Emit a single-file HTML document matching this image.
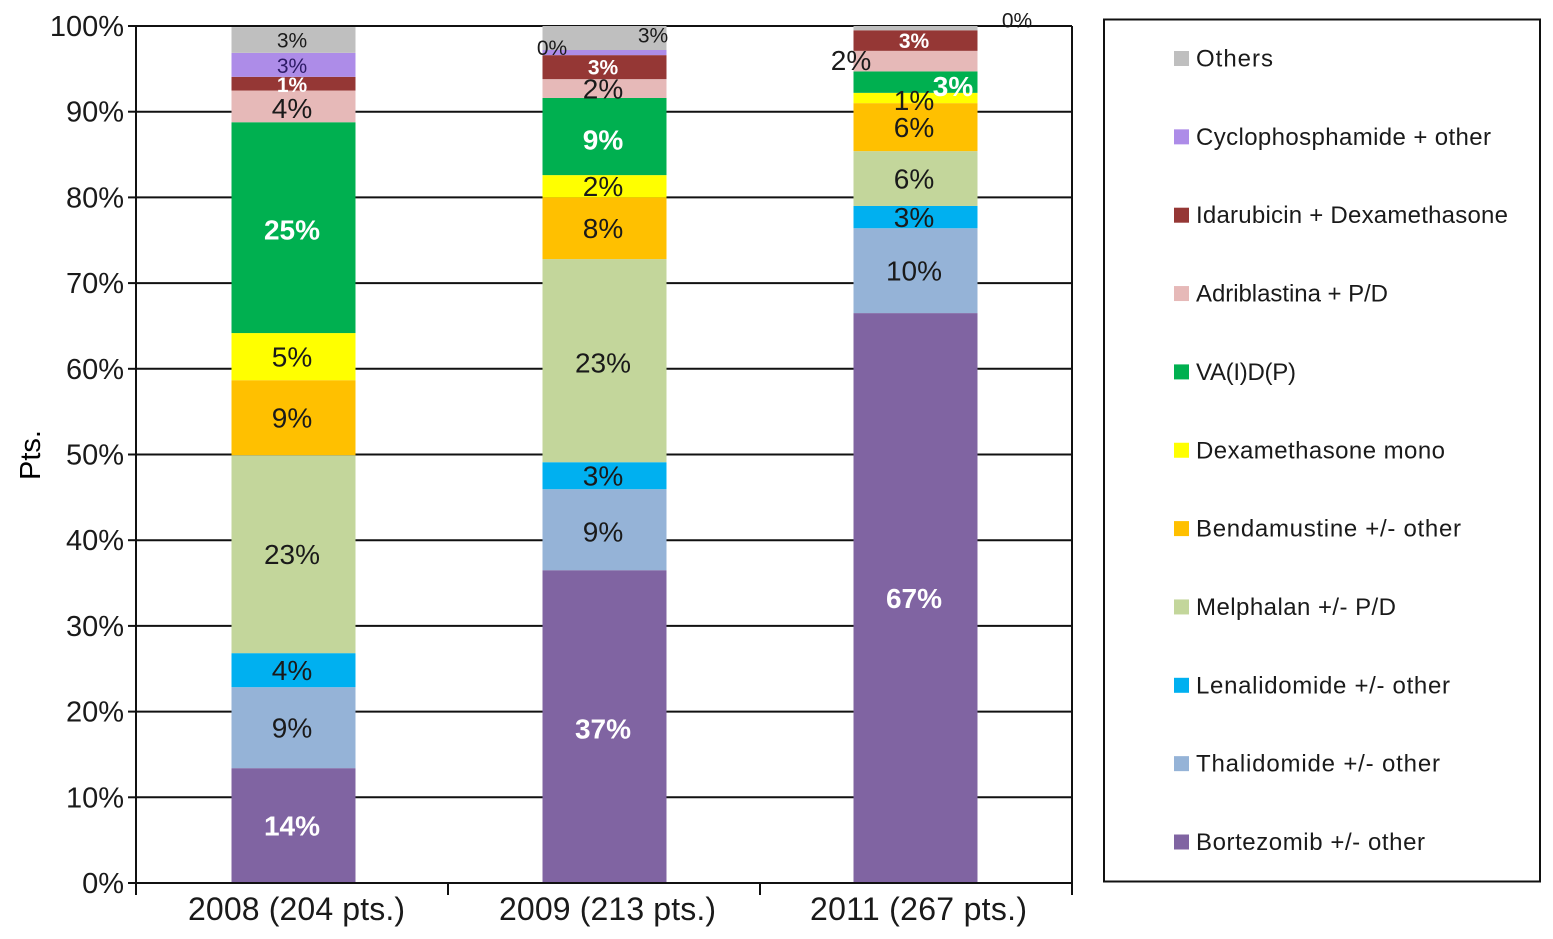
<!DOCTYPE html>
<html lang="en">
<head>
<meta charset="utf-8">
<title>Treatment regimens by year</title>
<style>
html,body{margin:0;padding:0;background:#fff;width:1553px;height:939px;overflow:hidden}
svg{display:block}
text{font-family:"Liberation Sans",sans-serif}
</style>
</head>
<body>
<svg id="chart" width="1553" height="939" viewBox="0 0 1553 939" xmlns="http://www.w3.org/2000/svg"></svg>
<script>
// ---- Data ----
const categories = ['2008 (204 pts.)', '2009 (213 pts.)', '2011 (267 pts.)'];
const yTicks = [0, 10, 20, 30, 40, 50, 60, 70, 80, 90, 100];

const bortezomib = [13.4, 36.5, 66.5];
const thalidomide = [9.45, 9.45, 9.9];
const lenalidomide = [3.97, 3.15, 2.6];
const melphalan = [23.1, 23.7, 6.4];
const bendamustine = [8.75, 7.2, 5.6];
const dexamethasone = [5.5, 2.6, 1.2];
const vaidp = [24.6, 9.0, 2.5];
const adriblastina = [3.7, 2.2, 2.4];
const idarubicin = [1.6, 2.8, 2.4];
const cyclophosphamide = [2.8, 0.6, 0];
const others = [3.0, 2.8, 0.5];

const labelsBortezomib = ['14%', '37%', '67%'];
const labelsThalidomide = ['9%', '9%', '10%'];
const labelsLenalidomide = ['4%', '3%', '3%'];
const labelsMelphalan = ['23%', '23%', '6%'];
const labelsBendamustine = ['9%', '8%', '6%'];
const labelsDexamethasone = ['5%', '2%', '1%'];
const labelsVaidp = ['25%', '9%', '3%'];
const labelsAdriblastina = ['4%', '2%', '2%'];
const labelsIdarubicin = ['1%', '3%', '3%'];
const labelsCyclophosphamide = ['3%', '0%', ''];
const labelsOthers = ['3%', '3%', '0%'];

const seriesNames = ['Bortezomib +/- other', 'Thalidomide +/- other', 'Lenalidomide +/- other', 'Melphalan +/- P/D', 'Bendamustine +/- other', 'Dexamethasone mono', 'VA(I)D(P)', 'Adriblastina + P/D', 'Idarubicin + Dexamethasone', 'Cyclophosphamide + other', 'Others'];
const seriesValues = [bortezomib, thalidomide, lenalidomide, melphalan, bendamustine, dexamethasone, vaidp, adriblastina, idarubicin, cyclophosphamide, others];
const seriesLabels = [labelsBortezomib, labelsThalidomide, labelsLenalidomide, labelsMelphalan, labelsBendamustine, labelsDexamethasone, labelsVaidp, labelsAdriblastina, labelsIdarubicin, labelsCyclophosphamide, labelsOthers];

// ---- Styling and layout ----
const seriesColors = ['#8064A2', '#95B3D7', '#00B0F0', '#C3D69B', '#FFC000', '#FFFF00', '#00B050', '#E6B9B8', '#953735', '#AD8CE8', '#BFBFBF'];
const legendWidths = [229, 244, 254, 200, 265, 249, 100, 192, 312, 295, 77];
const plot = {left: 136, right: 1072, top: 26, bottom: 883, barWidth: 124, firstBar: 293.5, barStep: 311};
const labelStyle = {
  '0,0': {bold: 1, white: 1}, '1,0': {bold: 1, white: 1, dy: 2}, '2,0': {bold: 1, white: 1},
  '1,1': {dy: 2}, '1,3': {dy: 2},
  '0,6': {bold: 1, white: 1, dy: 2}, '1,6': {bold: 1, white: 1, dy: 3}, '2,6': {bold: 1, white: 1, dx: 39, dy: 4},
  '0,7': {dy: 2}, '2,7': {dx: -63, dy: -1}, '2,5': {dy: 2},
  '0,8': {bold: 1, white: 1, small: 1, dy: 1}, '1,8': {bold: 1, white: 1, small: 1}, '2,8': {bold: 1, white: 1, small: 1},
  '0,9': {small: 1, dy: 1, fill: '#2d1a66'}, '1,9': {small: 1, dx: -51, dy: -5},
  '0,10': {small: 1}, '1,10': {small: 1, dx: 50, dy: -3}, '2,10': {small: 1, dx: 103, dy: -8}
};

const svg = document.getElementById('chart');
const NS = 'http://www.w3.org/2000/svg';
function make(tag, attrs, text) {
  const el = document.createElementNS(NS, tag);
  for (const k in attrs) el.setAttribute(k, attrs[k]);
  if (text !== undefined) el.textContent = text;
  svg.appendChild(el);
  return el;
}
function yScale(v) { return plot.bottom - (v / 100) * (plot.bottom - plot.top); }
function bandWidth() { return (plot.right - plot.left) / categories.length; }
function xCenter(i) { return plot.firstBar + plot.barStep * i; }

// Gridlines
yTicks.forEach(function (t) {
  if (t === 0) return;
  const g = make('line', {x1: plot.left, x2: plot.right, y1: yScale(t), y2: yScale(t), stroke: '#111', 'stroke-width': 2});
  
  
});

// Bars
categories.forEach(function (cat, c) {
  let cum = 0;
  seriesValues.forEach(function (vals, s) {
    const v = vals[c];
    const y1 = yScale(cum), y0 = yScale(cum + v);
    cum += v;
    if (v <= 0) return;
    const r = make('rect', {x: xCenter(c) - plot.barWidth / 2, y: y0, width: plot.barWidth, height: y1 - y0, fill: seriesColors[s]});
    
    
  });
});

// Axes
const axisY = make('line', {x1: plot.left, x2: plot.left, y1: plot.top, y2: plot.bottom + 12, stroke: '#111', 'stroke-width': 2});


const axisR = make('line', {x1: plot.right, x2: plot.right, y1: plot.top, y2: plot.bottom + 12, stroke: '#111', 'stroke-width': 2});


const axisX = make('line', {x1: plot.left - 8, x2: plot.right, y1: plot.bottom, y2: plot.bottom, stroke: '#111', 'stroke-width': 2});



yTicks.forEach(function (t) {
  const tick = make('line', {x1: plot.left - 8, x2: plot.left, y1: yScale(t), y2: yScale(t), stroke: '#111', 'stroke-width': 2});
  
  
  const lab = make('text', {x: 124, y: yScale(t) + 10, 'text-anchor': 'end', 'font-size': 29, fill: '#1a1a1a'}, t + '%');
  
  
});

categories.forEach(function (cat, c) {
  const tx = plot.left + bandWidth() * (c + 1);
  if (c < categories.length - 1) {
    const tick = make('line', {x1: tx, x2: tx, y1: plot.bottom, y2: plot.bottom + 12, stroke: '#111', 'stroke-width': 2});
    
    
  }
  const lab = make('text', {x: xCenter(c) + 3, y: 920, 'text-anchor': 'middle', 'font-size': 32, fill: '#1a1a1a', textLength: 217, lengthAdjust: 'spacing'}, cat);
  
  
});

// Y-axis title
const yTitle = make('text', {x: 0, y: 0, transform: 'translate(40 455) rotate(-90)', 'text-anchor': 'middle', 'font-size': 29, fill: '#000'}, 'Pts.');



// Data labels
categories.forEach(function (cat, c) {
  let cum = 0;
  seriesValues.forEach(function (vals, s) {
    const v = vals[c];
    const mid = yScale(cum + v / 2);
    cum += v;
    const txt = seriesLabels[s][c];
    if (!txt) return;
    const st = labelStyle[c + ',' + s] || {};
    const size = st.small ? 21 : 28;
    const attrs = {
      x: xCenter(c) - 1.5 + (st.dx || 0),
      y: mid + (st.dy || 0) + size * 0.35,
      'text-anchor': 'middle',
      'font-size': size,
      fill: st.fill || (st.white ? '#fff' : '#1a1a1a')
    };
    if (st.bold) attrs['font-weight'] = 'bold';
    const lab = make('text', attrs, txt);
    
    
  });
});

// Legend
const legendBox = make('rect', {x: 1104, y: 19.5, width: 436, height: 862, fill: '#fff', stroke: '#111', 'stroke-width': 2});


const legendStep = (842 - 58.5) / (seriesNames.length - 1);
seriesNames.forEach(function (name, s) {
  const cy = 58.5 + (seriesNames.length - 1 - s) * legendStep;
  const sw = make('rect', {x: 1174, y: cy - 7.5, width: 15, height: 15, fill: seriesColors[s]});
  
  
  const t = make('text', {x: 1196, y: cy + 8, 'font-size': 24, fill: '#1a1a1a', textLength: legendWidths[s], lengthAdjust: 'spacing'}, name);
  
  
});
</script>
</body>
</html>
